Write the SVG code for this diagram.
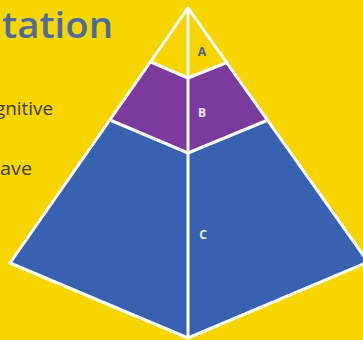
<svg xmlns="http://www.w3.org/2000/svg" width="363" height="340" viewBox="0 0 363 340">
<style>
.edge{stroke:#ffffff;stroke-width:3;stroke-linejoin:round;fill:none}
.lbl{font-family:"Open Sans","Liberation Sans",Arial,sans-serif;font-weight:bold;font-size:12px;text-anchor:middle}
.side{font-family:"Open Sans","Liberation Sans",Arial,sans-serif;font-size:19px;fill:#443a12}
</style>
<rect width="363" height="340" fill="#f7d600"/>
<text x="2" y="38" font-family="'Open Sans','Liberation Sans',Arial,sans-serif" font-weight="600" font-size="36" fill="#4d6a9e" textLength="111" lengthAdjust="spacingAndGlyphs">tation</text>
<text class="side" x="-5" y="115" textLength="58" lengthAdjust="spacingAndGlyphs">gnitive</text>
<text class="side" x="0" y="175" textLength="32" lengthAdjust="spacingAndGlyphs">ave</text>
<g id="layerA">
<polygon points="188,8 151,62 188,78 228,62" fill="#f7d600"/>
<text class="lbl" x="202" y="56" fill="#45608e">A</text>
</g>
<g id="layerB">
<polygon points="151,62 188,78 228,62 268,120 188,153 110,120" fill="#7b3b9c"/>
<text class="lbl" x="202" y="117" fill="#efe6f5">B</text>
</g>
<g id="layerC">
<polygon points="110,120 188,153 268,120 368,262 188,338 10,263" fill="#3862b0"/>
<text class="lbl" x="203" y="239" fill="#e8eef8" font-size="14">C</text>
</g>
<g id="connectors">
<polyline class="edge" points="151,62 188,78 228,62"/>
<polyline class="edge" points="110,120 188,153 268,120"/>
<line class="edge" x1="188" y1="8" x2="188" y2="338"/>
<polygon class="edge" points="188,8 368,262 188,338 10,263"/>
</g>
</svg>
